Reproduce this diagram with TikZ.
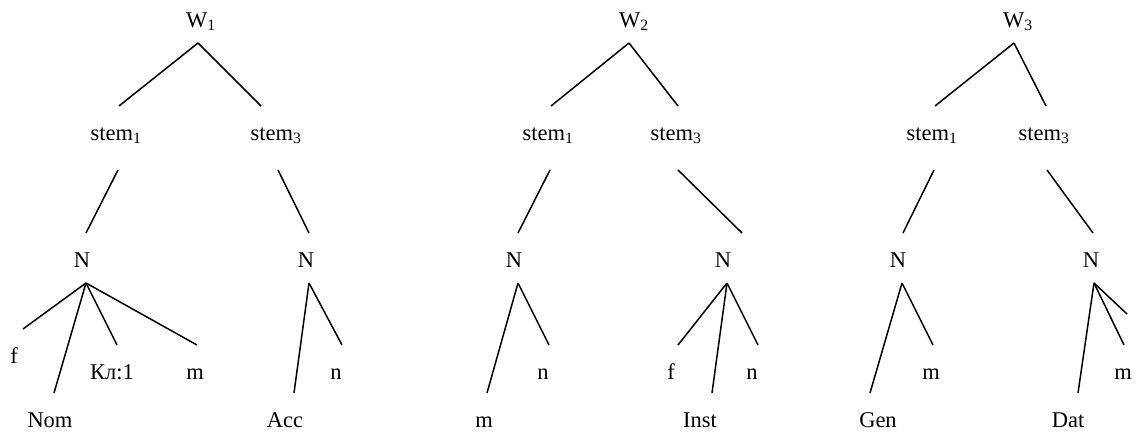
\documentclass[tikz,border=0pt]{standalone}
\usepackage{fontspec}
\setmainfont{Liberation Serif}
\begin{document}
\begin{tikzpicture}[
    x=1pt, y=-1pt,
    lbl/.style={inner sep=0pt, text height=18pt, text depth=0pt, outer ysep=16pt,
                anchor=base, font=\fontsize{22.5}{27}\selectfont},
    stm/.style={lbl, text depth=14pt},
    vetka/.style={line width=1.5pt}
]
\useasboundingbox (0,0) rectangle (1136,432);

% W_1
\node[lbl] (w1) at (201,27) {W\textsubscript{1}};
\node[stm] (s11) at (116,140) {stem\textsubscript{1}};
\node[stm] (s13) at (276,140) {stem\textsubscript{3}};
\node[lbl] (n11) at (82,267) {N};
\node[lbl] (n13) at (306,267) {N};
\node[lbl] (f1) at (14,363) {f};
\node[lbl] (nom) at (50,427) {Nom};
\node[lbl] (kl) at (112,379) {Кл:1};
\node[lbl] (m1) at (195,379) {m};
\node[lbl] (acc) at (285,427) {Acc};
\node[lbl] (n1) at (336,379) {n};

\draw[vetka] ([xshift=-3pt]w1.south) -- ([xshift=3pt]s11.north);
\draw[vetka] ([xshift=-3pt]w1.south) -- ([xshift=-15pt]s13.north);
\draw[vetka] ([xshift=2pt]s11.south) -- ([xshift=4pt]n11.north);
\draw[vetka] ([xshift=2pt]s13.south) -- ([xshift=3pt]n13.north);
\foreach \kid/\dx in {f1/9, nom/4, kl/5, m1/2}
    \draw[vetka] ([xshift=4pt]n11.south) -- ([xshift=\dx pt]\kid.north);
\foreach \kid/\dx in {acc/9, n1/6}
    \draw[vetka] ([xshift=3pt]n13.south) -- ([xshift=\dx pt]\kid.north);

% W_2
\node[lbl] (w2) at (634,27) {W\textsubscript{2}};
\node[stm] (s21) at (548,140) {stem\textsubscript{1}};
\node[stm] (s23) at (676,140) {stem\textsubscript{3}};
\node[lbl] (n21) at (514,267) {N};
\node[lbl] (n23) at (723,267) {N};
\node[lbl] (m2) at (484,427) {m};
\node[lbl] (n2a) at (543,379) {n};
\node[lbl] (f2) at (671,379) {f};
\node[lbl] (inst) at (700,427) {Inst};
\node[lbl] (n2b) at (752,379) {n};

\draw[vetka] ([xshift=-5pt]w2.south) -- ([xshift=3pt]s21.north);
\draw[vetka] ([xshift=-5pt]w2.south) -- ([xshift=2pt]s23.north);
\draw[vetka] ([xshift=2pt]s21.south) -- ([xshift=4pt]n21.north);
\draw[vetka] ([xshift=2pt]s23.south) -- ([xshift=19pt]n23.north);
\foreach \kid/\dx in {m2/3, n2a/6}
    \draw[vetka] ([xshift=4pt]n21.south) -- ([xshift=\dx pt]\kid.north);
\foreach \kid/\dx in {f2/7, inst/12, n2b/6}
    \draw[vetka] ([xshift=4pt]n23.south) -- ([xshift=\dx pt]\kid.north);

% W_3
\node[lbl] (w3) at (1018,27) {W\textsubscript{3}};
\node[stm] (s31) at (932,140) {stem\textsubscript{1}};
\node[stm] (s33) at (1044,140) {stem\textsubscript{3}};
\node[lbl] (n31) at (898,267) {N};
\node[lbl] (n33) at (1091,267) {N};
\node[lbl] (gen) at (878,427) {Gen};
\node[lbl] (m3a) at (931,379) {m};
\node[lbl] (dat) at (1068,427) {Dat};
\node[lbl] (m3b) at (1123,379) {m};
\coordinate (obryv) at (1127,314);

\draw[vetka] ([xshift=-4pt]w3.south) -- ([xshift=3pt]s31.north);
\draw[vetka] ([xshift=-4pt]w3.south) -- ([xshift=2pt]s33.north);
\draw[vetka] ([xshift=2pt]s31.south) -- ([xshift=5pt]n31.north);
\draw[vetka] ([xshift=3pt]s33.south) -- ([xshift=2pt]n33.north);
\foreach \kid/\dx in {gen/-8, m3a/2}
    \draw[vetka] ([xshift=4pt]n31.south) -- ([xshift=\dx pt]\kid.north);
\foreach \kid/\dx in {dat/10, m3b/1}
    \draw[vetka] ([xshift=3pt]n33.south) -- ([xshift=\dx pt]\kid.north);
\draw[vetka] ([xshift=3pt]n33.south) -- (obryv);
\end{tikzpicture}
\end{document}
